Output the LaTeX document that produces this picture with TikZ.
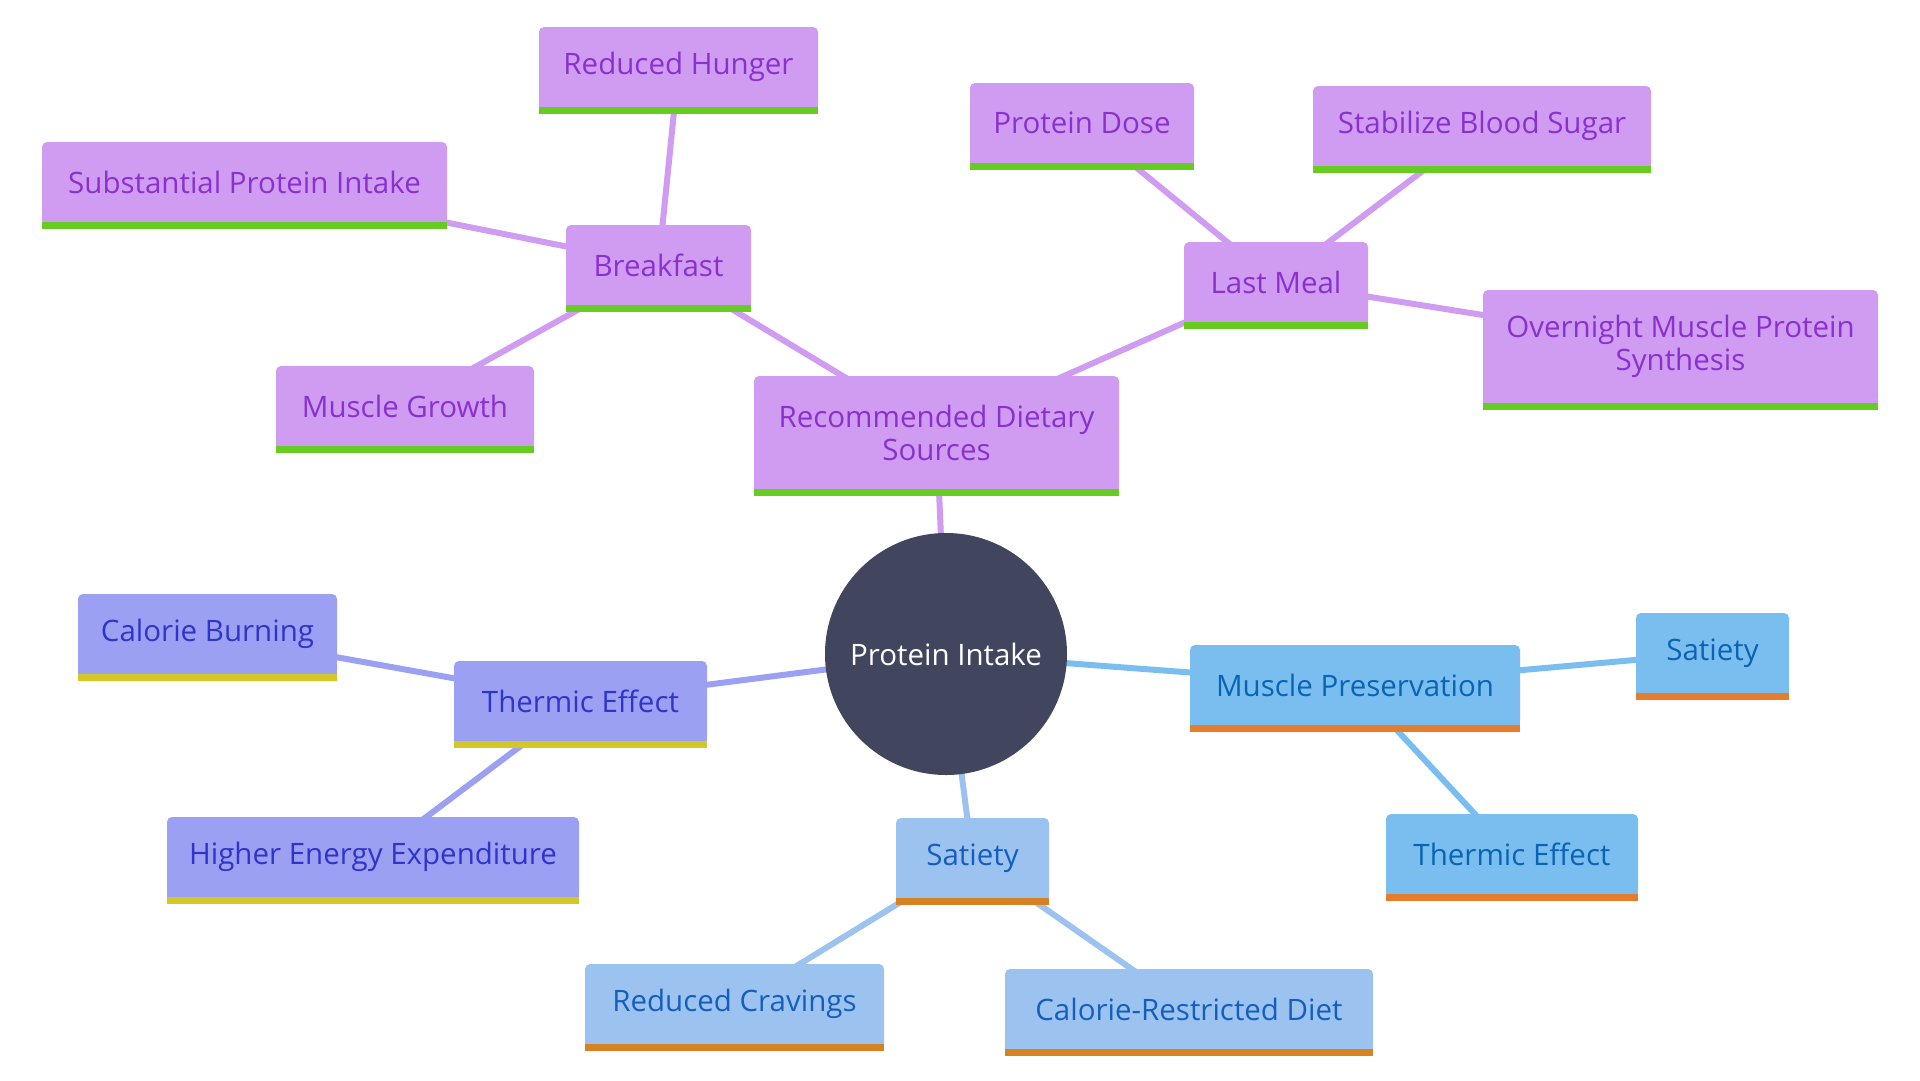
\documentclass[tikz,border=0pt]{standalone}
\usepackage{fontspec}
\setmainfont{Open Sans}
\usetikzlibrary{backgrounds}
\definecolor{pfill}{HTML}{CF9CF2}
\definecolor{ptext}{HTML}{8A30CF}
\definecolor{pbar}{HTML}{66CC22}
\definecolor{ifill}{HTML}{9BA0F2}
\definecolor{itext}{HTML}{3034C8}
\definecolor{ibar}{HTML}{D4C828}
\definecolor{bfill}{HTML}{7ABEF0}
\definecolor{btext}{HTML}{0A64B4}
\definecolor{bbar}{HTML}{E67D2D}
\definecolor{lfill}{HTML}{9CC3F0}
\definecolor{ltext}{HTML}{145FBE}
\definecolor{lbar}{HTML}{D78223}
\definecolor{hub}{HTML}{41465E}
\tikzset{
  x=1pt, y=-1pt,
  mmbox/.style={rectangle, rounded corners=5pt, inner sep=0pt, align=center,
    font=\fontsize{29.5}{33}\selectfont, minimum height=80pt},
  pbox/.style={mmbox, fill=pfill, text=ptext},
  ibox/.style={mmbox, fill=ifill, text=itext},
  bbox/.style={mmbox, fill=bfill, text=btext},
  lbox/.style={mmbox, fill=lfill, text=ltext},
  link/.style={line width=6pt},
}
\begin{document}
\begin{tikzpicture}
\useasboundingbox (0,0) rectangle (1920,1080);
% hub
\node[circle, fill=hub, text=white, minimum size=242pt, inner sep=0pt,
  font=\fontsize{29.5}{33}\selectfont] (pi) at (946,654) {Protein Intake};
% purple branch
\node[pbox, minimum width=365pt, minimum height=113pt] (rec) at (936.5,432.5) {Recommended Dietary\\Sources};
\node[pbox, minimum width=185pt] (brk) at (658.5,265) {Breakfast};
\node[pbox, minimum width=279pt] (hun) at (678.5,67) {Reduced Hunger};
\node[pbox, minimum width=405pt] (sub) at (244.5,182) {Substantial Protein Intake};
\node[pbox, minimum width=258pt] (mgr) at (405,406) {Muscle Growth};
\node[pbox, minimum width=184pt] (lst) at (1276,282) {Last Meal};
\node[pbox, minimum width=224pt] (dos) at (1082,123) {Protein Dose};
\node[pbox, minimum width=338pt] (sbs) at (1482,126) {Stabilize Blood Sugar};
\node[pbox, minimum width=395pt, minimum height=113pt] (ovn) at (1680.5,346.5) {Overnight Muscle Protein\\Synthesis};
% indigo branch
\node[ibox, minimum width=253pt] (the) at (580.5,701) {Thermic Effect};
\node[ibox, minimum width=259pt] (cal) at (207.5,634) {Calorie Burning};
\node[ibox, minimum width=412pt] (hee) at (373,857) {Higher Energy Expenditure};
% blue branch
\node[bbox, minimum width=330pt] (mpr) at (1355,685) {Muscle Preservation};
\node[bbox, minimum width=153pt] (sat) at (1712.5,653) {Satiety};
\node[bbox, minimum width=252pt] (tht) at (1512,854) {Thermic Effect};
% light blue branch
\node[lbox, minimum width=153pt] (sty) at (972.5,858) {Satiety};
\node[lbox, minimum width=299pt] (rcr) at (734.5,1004) {Reduced Cravings};
\node[lbox, minimum width=368pt] (crd) at (1189,1009) {Calorie-Restricted Diet};
% square bottoms and bars
\foreach \n/\f/\b in {rec/pfill/pbar, brk/pfill/pbar, hun/pfill/pbar, sub/pfill/pbar,
  mgr/pfill/pbar, lst/pfill/pbar, dos/pfill/pbar, sbs/pfill/pbar, ovn/pfill/pbar,
  the/ifill/ibar, cal/ifill/ibar, hee/ifill/ibar,
  mpr/bfill/bbar, sat/bfill/bbar, tht/bfill/bbar,
  sty/lfill/lbar, rcr/lfill/lbar, crd/lfill/lbar}{
  \fill[\f] ([yshift=6pt]\n.south west) rectangle (\n.south east);
  \fill[\b] (\n.south west) rectangle ([yshift=-7pt]\n.south east);
}
% connectors
\begin{scope}[on background layer]
\fill[white] (0,0) rectangle (1920,1080);
\draw[link, pfill] (pi.center) -- (rec.center);
\draw[link, pfill] (rec.center) -- (brk.center);
\draw[link, pfill] (rec.center) -- (lst.center);
\draw[link, pfill] (brk.center) -- (hun.center);
\draw[link, pfill] (brk.center) -- (sub.center);
\draw[link, pfill] (brk.center) -- (mgr.center);
\draw[link, pfill] (lst.center) -- (dos.center);
\draw[link, pfill] (lst.center) -- (sbs.center);
\draw[link, pfill] (lst.center) -- (ovn.center);
\draw[link, ifill] (pi.center) -- (the.center);
\draw[link, ifill] (the.center) -- (cal.center);
\draw[link, ifill] (the.center) -- (hee.center);
\draw[link, bfill] (pi.center) -- (mpr.center);
\draw[link, bfill] (mpr.center) -- (sat.center);
\draw[link, bfill] (mpr.center) -- (tht.center);
\draw[link, lfill] (pi.center) -- (sty.center);
\draw[link, lfill] (sty.center) -- (rcr.center);
\draw[link, lfill] (sty.center) -- (crd.center);
\end{scope}
\end{tikzpicture}
\end{document}
